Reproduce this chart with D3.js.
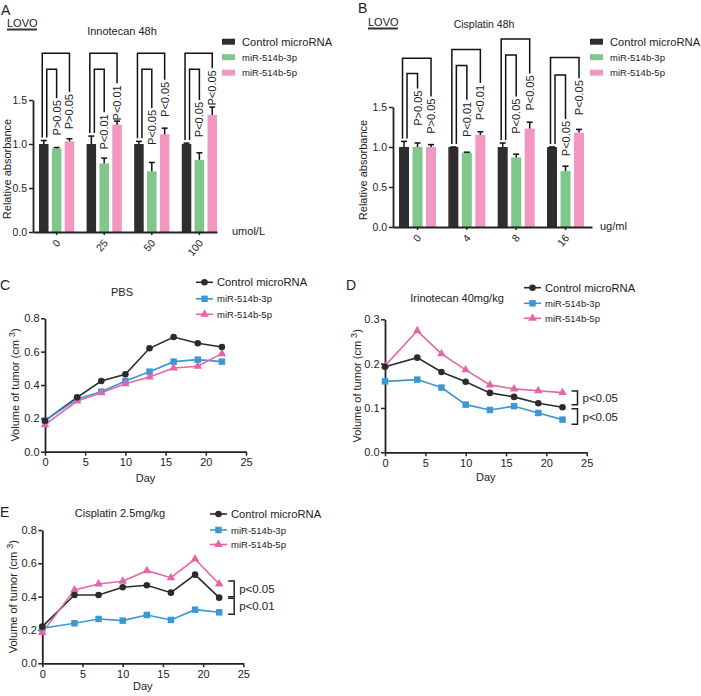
<!DOCTYPE html>
<html><head><meta charset="utf-8">
<script src="https://cdn.jsdelivr.net/npm/d3@7"></script>
<style>body{margin:0;background:#fff} svg text{font-family:"Liberation Sans",Arial,sans-serif;fill:#222}</style>
</head><body><svg id="c" width="701" height="696"></svg>
<script>
// ---------- DATA ----------
const seriesNames = ["Control microRNA", "miR-514b-3p", "miR-514b-5p"];

// Panel A: Innotecan 48h (umol/L)
const aDoses = ["0", "25", "50", "100"];
const aControl = [1.00, 1.00, 1.00, 1.00];
const aControlErr = [0.04, 0.09, 0.03, 0.01];
const a3p = [0.95, 0.78, 0.69, 0.82];
const a3pErr = [0.01, 0.06, 0.10, 0.08];
const a5p = [1.03, 1.22, 1.11, 1.33];
const a5pErr = [0.03, 0.04, 0.07, 0.09];
const aP3p = ["P>0.05", "P<0.01", "P<0.05", "P<0.05"];
const aP5p = ["P>0.05", "P<0.01", "P<0.05", "P<0.05"];
const aBracketTop3p = [1.85, 1.85, 1.85, 1.85];
const aBracketTop5p = [2.03, 2.03, 2.03, 2.03];
const aLegEnd3p = [1.52, 1.36, 1.41, 1.50];
const aLegEnd5p = [1.59, 1.69, 1.73, 1.86];

// Panel B: Cisplatin 48h (ug/ml)
const bDoses = ["0", "4", "8", "16"];
const bControl = [1.00, 1.00, 1.00, 1.00];
const bControlErr = [0.07, 0.0, 0.05, 0.0];
const b3p = [1.00, 0.93, 0.87, 0.70];
const b3pErr = [0.05, 0.005, 0.04, 0.06];
const b5p = [1.00, 1.15, 1.23, 1.18];
const b5pErr = [0.03, 0.04, 0.08, 0.04];
const bP3p = ["P>0.05", "P<0.01", "P<0.05", "P<0.05"];
const bP5p = ["P>0.05", "P<0.01", "P<0.05", "P<0.05"];
const bBracketTop3p = [1.92, 2.02, 2.15, 1.90];
const bBracketTop5p = [2.11, 2.22, 2.35, 2.12];
const bLegEnd3p = [1.73, 1.59, 1.63, 1.35];
const bLegEnd5p = [1.63, 1.80, 1.92, 1.86];

// Panels C-E: tumour volume by day
const days = [0, 4, 7, 10, 13, 16, 19, 22];
const cControl = [0.186, 0.326, 0.424, 0.464, 0.620, 0.688, 0.650, 0.628];
const c3p      = [0.186, 0.316, 0.360, 0.424, 0.480, 0.540, 0.552, 0.540];
const c5p      = [0.162, 0.304, 0.354, 0.408, 0.448, 0.502, 0.512, 0.588];
const dControl = [0.193, 0.2135, 0.181, 0.159, 0.134, 0.125, 0.1105, 0.1015];
const d3p      = [0.160, 0.164, 0.146, 0.1075, 0.0955, 0.104, 0.0887, 0.0737];
const d5p      = [0.195, 0.274, 0.222, 0.186, 0.152, 0.143, 0.139, 0.1346];
const eControl = [0.220, 0.410, 0.410, 0.456, 0.468, 0.424, 0.532, 0.394];
const e3p      = [0.210, 0.240, 0.266, 0.256, 0.290, 0.260, 0.322, 0.306];
const e5p      = [0.184, 0.440, 0.476, 0.492, 0.556, 0.514, 0.626, 0.476];
const dSig = [[0.138, 0.107, "p<0.05"], [0.098, 0.063, "p<0.05"]];
const eSig = [[0.494, 0.400, "p<0.05"], [0.390, 0.294, "p<0.01"]];
const cTicksY = [0, 0.2, 0.4, 0.6, 0.8];
const dTicksY = [0, 0.1, 0.2, 0.3];
const dayTicks = [0, 5, 10, 15, 20, 25];

// ---------- STYLE ----------
const FONT = '"Liberation Sans", Arial, sans-serif';
const barColors = ["#2e2e2e", "#80c78b", "#f197c0"];
const lineColors = ["#2b2b2b", "#3b97d5", "#e466a6"];
const symbols = [d3.symbolCircle, d3.symbolSquare, d3.symbolTriangle];
const symSizes = [34, 42, 32];

const svg = d3.select("#c");
svg.append("rect").attr("width", 701).attr("height", 696).attr("fill", "#fff");

function styleAxis(ax, fs) {
  ax.attr("font-family", FONT).attr("font-size", fs);
  ax.select(".domain").attr("stroke", "#222").attr("stroke-width", 1.8);
  ax.selectAll(".tick line").attr("stroke", "#222").attr("stroke-width", 1.5);
  ax.selectAll(".tick text").attr("fill", "#222");
}

function txt(g, x, y, s, fs, anchor) {
  return g.append("text").attr("x", x).attr("y", y).attr("font-size", fs)
    .attr("text-anchor", anchor || "start").text(s);
}

// ---------- BAR PANELS ----------
function barPanel(o) {
  const g = svg.append("g");
  const y = d3.scaleLinear().domain([0, 1.5]).range([o.y0, o.y1]);
  const x = d3.scaleBand().domain(o.cats).range([o.x0, o.x1])
    .paddingInner(o.pi).paddingOuter(o.po).align(o.align);
  const xs = d3.scaleBand().domain([0, 1, 2]).range([0, x.bandwidth()]).paddingInner(0.26);
  const vals = [o.ctrl, o.s3, o.s5], errs = [o.ctrlE, o.s3E, o.s5E];

  const rows = [];
  o.cats.forEach((c, i) => vals.forEach((v, s) => rows.push({ c, i, s, v: v[i], e: errs[s][i] })));

  g.selectAll("rect.bar").data(rows).join("rect").attr("class", "bar")
    .attr("x", d => x(d.c) + xs(d.s)).attr("y", d => y(d.v))
    .attr("width", xs.bandwidth()).attr("height", d => y(0) - y(d.v))
    .attr("fill", d => barColors[d.s]);
  const cx = d => x(d.c) + xs(d.s) + xs.bandwidth() / 2;
  g.selectAll("line.err").data(rows).join("line").attr("class", "err")
    .attr("x1", cx).attr("x2", cx).attr("y1", d => y(d.v)).attr("y2", d => y(d.v + d.e))
    .attr("stroke", "#111").attr("stroke-width", 1.5);
  g.selectAll("line.cap").data(rows).join("line").attr("class", "cap")
    .attr("x1", d => cx(d) - 3).attr("x2", d => cx(d) + 3)
    .attr("y1", d => y(d.v + d.e)).attr("y2", d => y(d.v + d.e))
    .attr("stroke", "#111").attr("stroke-width", 1.5);

  // significance brackets
  const br = [];
  o.cats.forEach((c, i) => {
    br.push({ c, i, s: 1, top: o.top3[i], leg: o.leg3[i], p: o.p3[i] });
    br.push({ c, i, s: 2, top: o.top5[i], leg: o.leg5[i], p: o.p5[i] });
  });
  const bc = (c, s) => x(c) + xs(s) + xs.bandwidth() / 2;
  g.selectAll("path.br").data(br).join("path").attr("class", "br")
    .attr("fill", "none").attr("stroke", "#111").attr("stroke-width", 1.5)
    .attr("d", d => {
      const lx = bc(d.c, 0) + (d.s === 2 ? -1.5 : 3);
      const lb = y(o.ctrl[d.i] + o.ctrlE[d.i]) - 3;
      const rx = bc(d.c, d.s);
      return `M${lx},${lb}V${y(d.top)}H${rx}V${y(d.leg)}`;
    });
  g.selectAll("text.p").data(br).join("text").attr("class", "p")
    .attr("font-size", 11).attr("text-anchor", "end")
    .attr("transform", d => `translate(${bc(d.c, d.s) + 4},${y(d.leg) + 2}) rotate(-90)`)
    .text(d => d.p);

  // axes
  const ay = g.append("g").attr("transform", `translate(${o.x0},0)`)
    .call(d3.axisLeft(y).tickValues([0, 0.5, 1.0, 1.5]).tickFormat(d3.format(".1f"))
      .tickSize(4).tickSizeOuter(0).tickPadding(2));
  styleAxis(ay, 10.5);
  const ax = g.append("g").attr("transform", `translate(0,${o.y0})`)
    .call(d3.axisBottom(x).tickSize(3).tickSizeOuter(0));
  styleAxis(ax, 10.5);
  ax.selectAll(".tick text").attr("x", 0).attr("y", 0).attr("dy", "0.35em")
    .attr("text-anchor", "end").attr("transform", "translate(1.5,9) rotate(-50)");

  txt(g, o.unitX, o.y0 + 3, o.unit, 11);
  g.append("text").attr("font-size", 11).attr("text-anchor", "middle")
    .attr("transform", `translate(${o.ylabX},${(o.y0 + o.y1) / 2 + 3}) rotate(-90)`)
    .text("Relative absorbance");
  txt(g, o.titleX, o.titleY, o.title, o.titleFs, "middle");
  txt(g, o.lovoX, o.lovoY, "LOVO", 11);
  g.append("line").attr("x1", o.lovoX).attr("x2", o.lovoX + 30)
    .attr("y1", o.lovoY + 3).attr("y2", o.lovoY + 3).attr("stroke", "#333").attr("stroke-width", 2);
  txt(g, o.letterX, o.letterY, o.letter, 14);

  // legend
  seriesNames.forEach((n, s) => {
    const ry = o.legY + s * 15.5;
    g.append("rect").attr("x", o.legX).attr("y", ry - 3).attr("width", 13).attr("height", 6)
      .attr("fill", barColors[s]);
    txt(g, o.legX + 20, ry + (s === 0 ? 4 : 3.5), n, s === 0 ? 11.2 : 9.5);
  });
}

barPanel({
  cats: aDoses, ctrl: aControl, ctrlE: aControlErr, s3: a3p, s3E: a3pErr, s5: a5p, s5E: a5pErr,
  p3: aP3p, p5: aP5p, top3: aBracketTop3p, top5: aBracketTop5p, leg3: aLegEnd3p, leg5: aLegEnd5p,
  x0: 33, x1: 217, y0: 232, y1: 100, pi: 0.26, po: 0.063, align: 1,
  unit: "umol/L", unitX: 232, ylabX: 11, title: "Innotecan 48h", titleX: 122, titleY: 35, titleFs: 11,
  lovoX: 7, lovoY: 26.5, letter: "A", letterX: 1, letterY: 15, legX: 222, legY: 41.7
});
barPanel({
  cats: bDoses, ctrl: bControl, ctrlE: bControlErr, s3: b3p, s3E: b3pErr, s5: b5p, s5E: b5pErr,
  p3: bP3p, p5: bP5p, top3: bBracketTop3p, top5: bBracketTop5p, leg3: bLegEnd3p, leg5: bLegEnd5p,
  x0: 393, x1: 592, y0: 227, y1: 107, pi: 0.25, po: 0.142, align: 0.43,
  unit: "ug/ml", unitX: 600, ylabX: 367, title: "Cisplatin 48h", titleX: 484, titleY: 28, titleFs: 10.5,
  lovoX: 368, lovoY: 25.5, letter: "B", letterX: 358, letterY: 13, legX: 590, legY: 41.7
});

// ---------- LINE PANELS ----------
function linePanel(o) {
  const g = svg.append("g");
  const x = d3.scaleLinear().domain([0, 25]).range([o.x0, o.x1]);
  const y = d3.scaleLinear().domain([0, o.ymax]).range([o.y0, o.y1]);
  const series = [o.ctrl, o.s3, o.s5];
  const line = d3.line().x((d, i) => x(days[i])).y(d => y(d));

  const ay = g.append("g").attr("transform", `translate(${o.x0},0)`)
    .call(d3.axisLeft(y).tickValues(o.ticksY).tickFormat(d3.format(".1f"))
      .tickSize(4).tickSizeOuter(0).tickPadding(1.5));
  styleAxis(ay, 11);
  const ax = g.append("g").attr("transform", `translate(0,${o.y0})`)
    .call(d3.axisBottom(x).tickValues(dayTicks).tickSize(4).tickSizeOuter(0).tickPadding(2.5));
  styleAxis(ax, 11);

  series.forEach((arr, s) => {
    g.append("path").datum(arr).attr("d", line).attr("fill", "none")
      .attr("stroke", lineColors[s]).attr("stroke-width", 1.6);
  });
  // draw markers: 3p, 5p, then control on top order as in ref
  [1, 2, 0].forEach(s => {
    g.selectAll(null).data(series[s]).join("path")
      .attr("transform", (d, i) => `translate(${x(days[i])},${y(d)})`)
      .attr("d", d3.symbol().type(symbols[s]).size(symSizes[s]))
      .attr("fill", lineColors[s]);
  });

  // significance brackets
  if (o.sig) {
    const bx = x(days[days.length - 1]) + 9;
    o.sig.forEach(([a, b, lab]) => {
      g.append("path").attr("fill", "none").attr("stroke", "#222").attr("stroke-width", 1.5)
        .attr("d", `M${bx},${y(a)}H${bx + 6}V${y(b)}H${bx}`);
      txt(g, bx + 11, (y(a) + y(b)) / 2 + 4, lab, 11.5);
    });
  }

  // labels
  txt(g, (o.x0 + o.x1) / 2, o.dayY, "Day", 11, "middle");
  const yl = g.append("text").attr("font-size", 11).attr("text-anchor", "middle")
    .attr("transform", `translate(${o.ylabX},${(o.y0 + o.y1) / 2}) rotate(-90)`);
  yl.append("tspan").text("Volume of tumor (cm ");
  yl.append("tspan").attr("dy", -4).attr("font-size", 9).text("3");
  yl.append("tspan").attr("dy", 4).text(")");
  txt(g, o.titleX, o.titleY, o.title, 11, "middle");
  txt(g, o.letterX, o.letterY, o.letter, 14);

  // legend
  seriesNames.forEach((n, s) => {
    const ry = o.legY[s];
    g.append("line").attr("x1", o.legX).attr("x2", o.legX + 17).attr("y1", ry).attr("y2", ry)
      .attr("stroke", lineColors[s]).attr("stroke-width", 1.6);
    g.append("path").attr("transform", `translate(${o.legX + 8.5},${ry})`)
      .attr("d", d3.symbol().type(symbols[s]).size(symSizes[s])).attr("fill", lineColors[s]);
    txt(g, o.legX + 21, ry + (s === 0 ? 4 : 3.5), n, s === 0 ? 11.2 : 9.5);
  });
}

linePanel({
  ctrl: cControl, s3: c3p, s5: c5p, ymax: 0.8, ticksY: cTicksY,
  x0: 45, x1: 246, y0: 451.7, y1: 318.3, dayY: 482, ylabX: 19,
  title: "PBS", titleX: 122, titleY: 296, letter: "C", letterX: 0, letterY: 290,
  legX: 196, legY: [282.3, 298.8, 314.3]
});
linePanel({
  ctrl: dControl, s3: d3p, s5: d5p, ymax: 0.3, ticksY: dTicksY, sig: dSig,
  x0: 385, x1: 586.7, y0: 452.3, y1: 319.3, dayY: 481, ylabX: 361,
  title: "Irinotecan 40mg/kg", titleX: 457, titleY: 302, letter: "D", letterX: 346, letterY: 290,
  legX: 524, legY: [287.7, 303.3, 318.3]
});
linePanel({
  ctrl: eControl, s3: e3p, s5: e5p, ymax: 0.8, ticksY: cTicksY, sig: eSig,
  x0: 42.3, x1: 243.3, y0: 663.3, y1: 530, dayY: 690, ylabX: 17,
  title: "Cisplatin 2.5mg/kg", titleX: 120, titleY: 517, letter: "E", letterX: 0, letterY: 517,
  legX: 210, legY: [514, 530, 544.5]
});
</script></body></html>
